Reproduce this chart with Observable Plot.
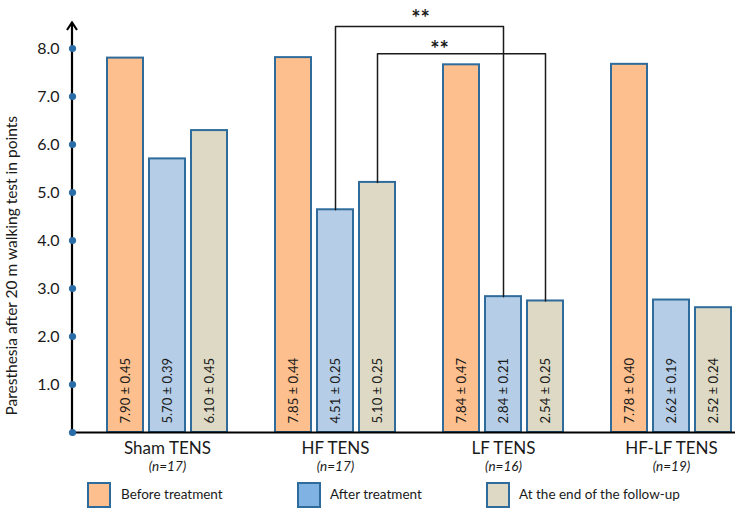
<!DOCTYPE html>
<html>
<head>
<meta charset="utf-8">
<script src="https://cdn.jsdelivr.net/npm/d3@7"></script>
<script src="https://cdn.jsdelivr.net/npm/@observablehq/plot@0.6"></script>
<style>
  body { margin: 0; background: #fff; font-family: Lato, "Open Sans", sans-serif; }
  #wrap { width: 741px; }
  #legend { position: relative; width: 741px; height: 43px; font-size: 13.5px; color: #1a1a1a; }
  .sw { position: absolute; top: 7px; width: 20px; height: 22px; border: 2px solid #2f6c9c; }
  .lt { position: absolute; top: 10px; line-height: 18px; white-space: nowrap; }
</style>
</head>
<body>
<div id="wrap">
  <div id="chart"></div>
  <div id="legend"></div>
</div>
<script>
// ---- data ----
const groups = ["Sham TENS", "HF TENS", "LF TENS", "HF-LF TENS"];
const groupN = ["(n=17)", "(n=17)", "(n=16)", "(n=19)"];
const series = ["Before treatment", "After treatment", "At the end of the follow-up"];
const beforeValues = [7.80, 7.81, 7.66, 7.67];
const afterValues = [5.70, 4.64, 2.83, 2.76];
const followUpValues = [6.29, 5.21, 2.74, 2.60];
const beforeLabels = ["7.90 ± 0.45", "7.85 ± 0.44", "7.84 ± 0.47", "7.78 ± 0.40"];
const afterLabels = ["5.70 ± 0.39", "4.51 ± 0.25", "2.84 ± 0.21", "2.62 ± 0.19"];
const followUpLabels = ["6.10 ± 0.45", "5.10 ± 0.25", "2.54 ± 0.25", "2.52 ± 0.24"];
const yTicks = [0, 1, 2, 3, 4, 5, 6, 7, 8];
const yTitle = "Paresthesia after 20 m walking test in points";
// significance brackets: group A vs group B for one series, bracket height
const brackets = [
  {a: 1, b: 2, s: 1, top: 8.46, star: "**"},
  {a: 1, b: 2, s: 2, top: 7.89, star: "**"}
];

const barFill = ["#fdbf8d", "#b5cde6", "#ddd9c4"];
const legendFill = ["#fdbf8d", "#80b3e4", "#ddd9c4"];
const edge = "#2f6c9c";

// ---- build table ----
const valueBy = [beforeValues, afterValues, followUpValues];
const labelBy = [beforeLabels, afterLabels, followUpLabels];
const key = (g, s) => groups[g] + "|" + series[s];
const domain = [];
groups.forEach((g, gi) => {
  if (gi > 0) domain.push("gap" + gi);
  series.forEach((s, si) => domain.push(key(gi, si)));
});
const rows = [];
groups.forEach((g, gi) => series.forEach((s, si) => rows.push({
  key: key(gi, si), series: s, value: valueBy[si][gi], label: labelBy[si][gi]
})));
const groupRows = groups.map((g, gi) => ({key: key(gi, 1), name: g, n: groupN[gi]}));
const bracketLines = [];
brackets.forEach((br, i) => {
  const ka = key(br.a, br.s), kb = key(br.b, br.s);
  bracketLines.push({id: i, x: ka, y: valueBy[br.s][br.a]});
  bracketLines.push({id: i, x: ka, y: br.top});
  bracketLines.push({id: i, x: kb, y: br.top});
  bracketLines.push({id: i, x: kb, y: valueBy[br.s][br.b]});
});

function axisLine(index, scales, values, dimensions) {
  const {marginLeft, marginTop} = dimensions;
  const x = marginLeft, y0 = scales.y(0);
  const g = d3.create("svg:g");
  g.append("line").attr("x1", x).attr("x2", x).attr("y1", y0 + 1).attr("y2", marginTop - 2)
    .attr("stroke", "#000").attr("stroke-width", 2.2);
  g.append("path").attr("d", `M${x - 5},${marginTop + 6}L${x},${marginTop - 1.5}L${x + 5},${marginTop + 6}`)
    .attr("fill", "none").attr("stroke", "#000").attr("stroke-width", 2.2);
  return g.node();
}

const starStyle = {x: () => "gap2", y: "top", text: "star", fontSize: 22, fontWeight: "bold",
  fill: "#1a1a1a", letterSpacing: 1};

const chart = Plot.plot({
  width: 741,
  height: 475,
  marginLeft: 72,
  marginRight: 6,
  marginTop: 24,
  marginBottom: 43,
  style: {fontFamily: "Lato, 'Open Sans', sans-serif", color: "#1a1a1a", background: "#fff", fontSize: "16px"},
  x: {domain, paddingInner: 0.143, paddingOuter: 0.4516, align: 0.887, axis: null},
  y: {domain: [0, 8.5], ticks: yTicks, tickSize: 0, tickPadding: 13, label: null,
      tickFormat: d => d === 0 ? "" : d.toFixed(1)},
  color: {domain: series, range: barFill},
  marks: [
    Plot.barY(rows, {x: "key", y: "value", fill: "series", stroke: edge, strokeWidth: 2}),
    Plot.text(rows, {x: "key", y: 0, text: "label", rotate: -90, textAnchor: "start", dy: -9,
      fontSize: 13, fill: "#1a1a1a"}),
    Plot.ruleY([0], {stroke: "#000", strokeWidth: 2.2}),
    axisLine,
    Plot.dot(yTicks, {y: d => d, frameAnchor: "left", r: 3.6, fill: "#2a6da6", stroke: null}),
    Plot.line(bracketLines, {x: "x", y: "y", z: "id", stroke: "#1a1a1a", strokeWidth: 1.5}),
    Plot.text(brackets.slice(0, 1), {...starStyle, dy: -7, dx: 1}),
    Plot.text(brackets.slice(1, 2), {...starStyle, dy: -4, dx: 20}),
    Plot.text(groupRows, {x: "key", y: 0, text: "name", dy: 16, fontSize: 17, fill: "#1a1a1a"}),
    Plot.text(groupRows, {x: "key", y: 0, text: "n", dy: 34, fontSize: 13.5, fontStyle: "italic", fill: "#1a1a1a"}),
    Plot.text([yTitle], {frameAnchor: "bottom-left", rotate: -90, textAnchor: "start", dx: -56, dy: -17,
      fontSize: 15.5, fill: "#1a1a1a"})
  ]
});
document.getElementById("chart").appendChild(chart);

// ---- legend ----
const legend = d3.select("#legend");
const swX = [87, 297, 486];
const txX = [121, 330, 519];
series.forEach((s, i) => {
  legend.append("div").attr("class", "sw").style("left", swX[i] + "px").style("background", legendFill[i]);
  legend.append("div").attr("class", "lt").style("left", txX[i] + "px").text(s);
});
</script>
</body>
</html>
